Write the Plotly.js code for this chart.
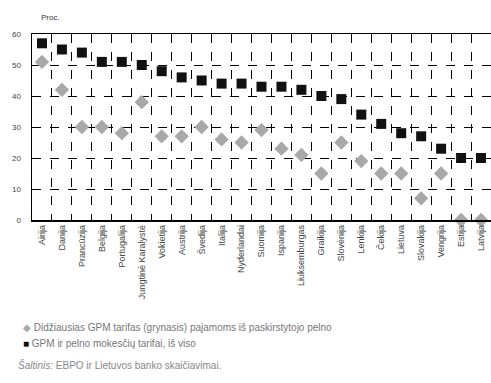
<!DOCTYPE html>
<html><head><meta charset="utf-8">
<script src="https://cdn.plot.ly/plotly-3.0.1.min.js"></script>
<style>html,body{margin:0;padding:0;background:#fff}#c{width:491px;height:383px}</style>
</head><body><div id="c"></div>
<script>
const categories = ["Airija","Danija","Prancūzija","Belgija","Portugalija","Jungtinė Karalystė","Vokietija","Austrija","Švedija","Italija","Nyderlandai","Suomija","Ispanija","Liuksemburgas","Graikija","Slovėnija","Lenkija","Čekija","Lietuva","Slovakija","Vengrija","Estija","Latvija"];
const totalRates = [57,55,54,51,51,50,48,46,45,44,44,43,43,42,40,39,34,31,28,27,23,20,20];
const dividendRates = [51,42,30,30,28,38,27,27,30,26,25,29,23,21,15,25,19,15,15,7,15,0,0];
const yTicks = [0,10,20,30,40,50,60];
const seriesNames = ["Didžiausias GPM tarifas (grynasis) pajamoms iš paskirstytojo pelno","GPM ir pelno mokesčių tarifai, iš viso"];
const yLabel = "Proc.";
const sourceText = "Šaltinis: EBPO ir Lietuvos banko skaičiavimai.";

const traces = [
  {type:"scatter",mode:"markers",x:categories,y:dividendRates,name:seriesNames[0],
   marker:{symbol:"diamond",size:11,color:"#a8a8a8"},cliponaxis:false},
  {type:"scatter",mode:"markers",x:categories,y:totalRates,name:seriesNames[1],
   marker:{symbol:"square",size:10,color:"#111111"},cliponaxis:false}
];
const layout = {
  width:491,height:383,showlegend:false,
  paper_bgcolor:"#fff",plot_bgcolor:"#fff",
  margin:{l:32,r:0,t:34,b:163},
  font:{family:"Liberation Sans, Arial, sans-serif",color:"#333"},
  xaxis:{type:"category",tickson:"boundaries",showgrid:true,gridcolor:"#000",griddash:"dash",gridwidth:1,
    tickangle:-90,tickfont:{size:9,color:"#444"},ticks:"",showline:true,linecolor:"#000",linewidth:1.5,
    mirror:true,range:[-0.5,22.5],fixedrange:true},
  yaxis:{range:[0,60],tickvals:yTicks,showgrid:true,gridcolor:"#000",griddash:"dash",gridwidth:1,
    showline:true,linecolor:"#000",linewidth:1.5,mirror:true,ticks:"inside",ticklen:3,tickcolor:"#000",
    ticklabelstandoff:8,tickfont:{size:8,color:"#444"},zeroline:false,fixedrange:true},
  annotations:[
    {xref:"paper",yref:"paper",x:0.015,y:1.055,xanchor:"left",yanchor:"bottom",text:yLabel,showarrow:false,font:{size:8,color:"#333"}},
    {xref:"paper",yref:"paper",x:-0.025,y:-0.58,xanchor:"left",yanchor:"middle",showarrow:false,font:{size:10,color:"#777"},
     text:'<span style="color:#aaa">◆</span> '+seriesNames[0]},
    {xref:"paper",yref:"paper",x:-0.025,y:-0.665,xanchor:"left",yanchor:"middle",showarrow:false,font:{size:10,color:"#777"},
     text:'<span style="color:#111">■</span> '+seriesNames[1]},
    {xref:"paper",yref:"paper",x:-0.035,y:-0.78,xanchor:"left",yanchor:"middle",showarrow:false,font:{size:10,color:"#888"},
     text:'<i>Šaltinis:</i> EBPO ir Lietuvos banko skaičiavimai.'}
  ]
};
Plotly.newPlot("c",traces,layout,{displayModeBar:false,staticPlot:true});
</script></body></html>
